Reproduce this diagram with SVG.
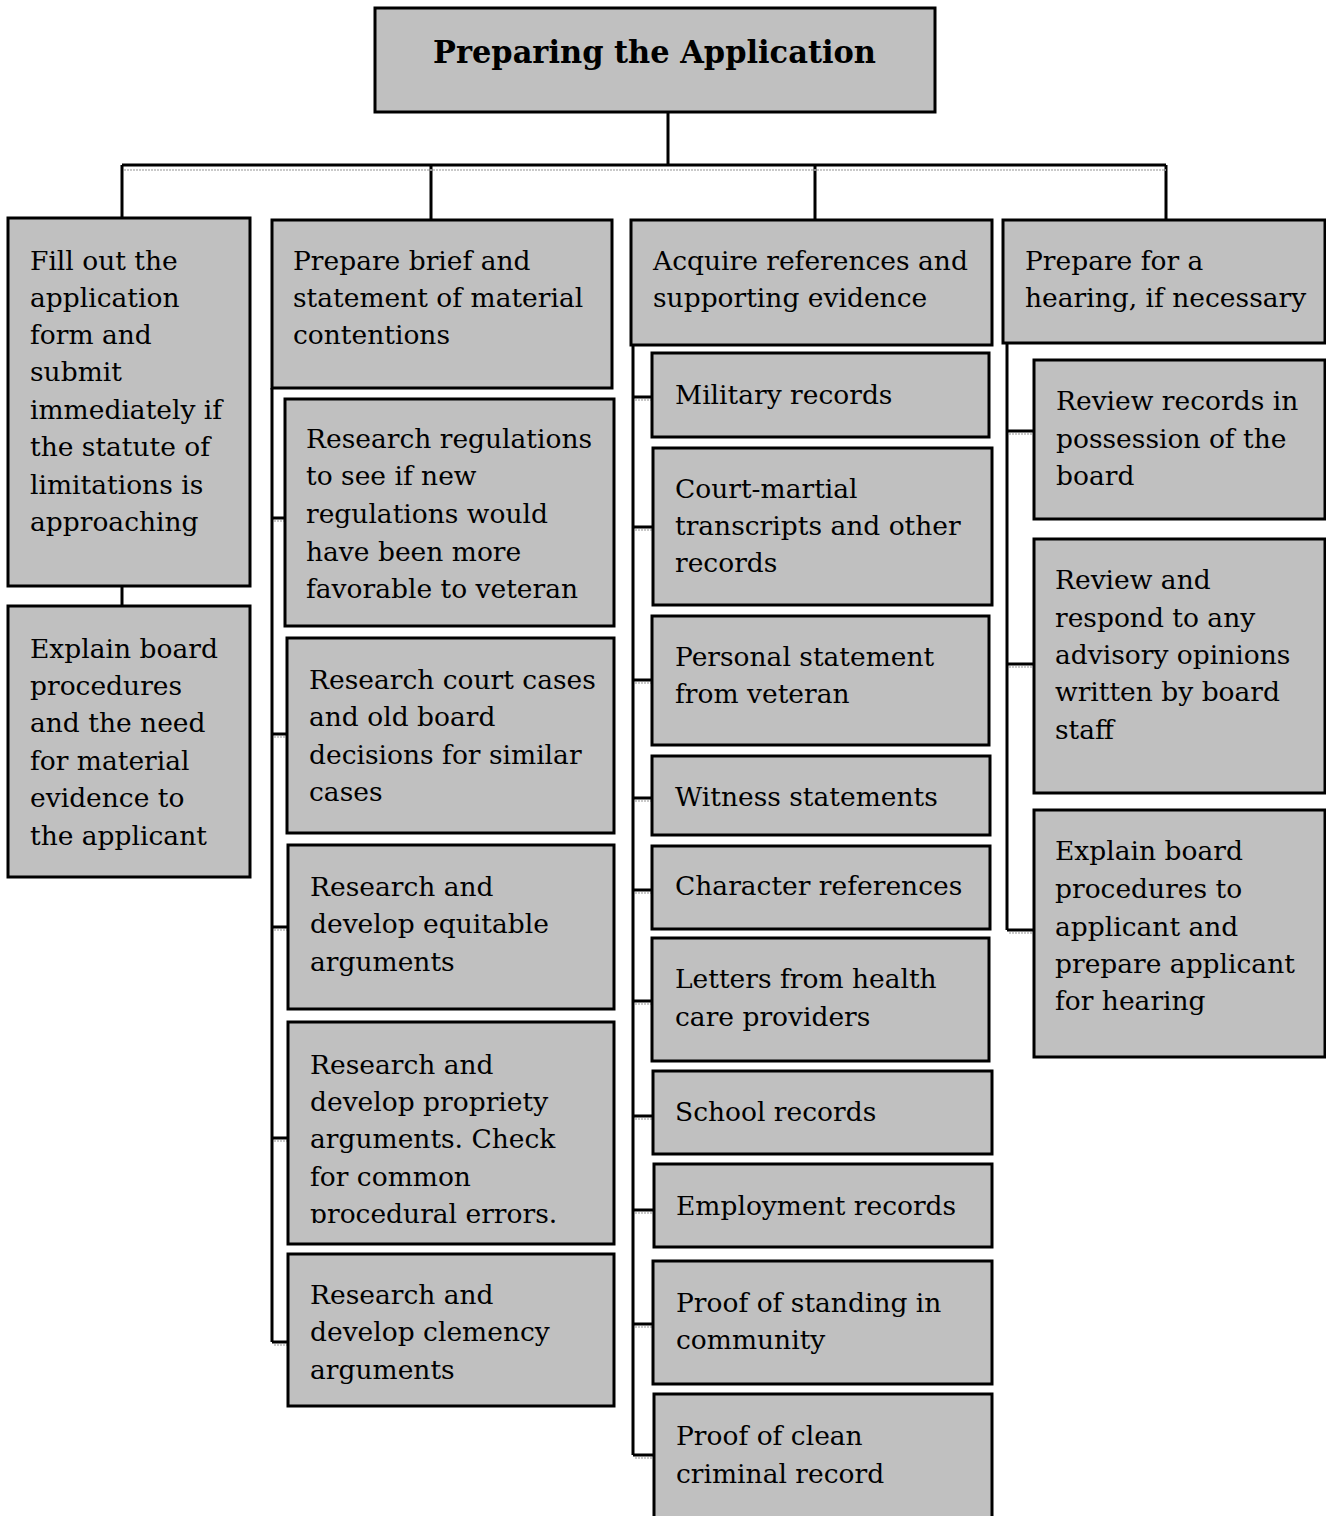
<svg xmlns="http://www.w3.org/2000/svg" width="1326" height="1516" viewBox="0 0 1326 1516">
<style>
.box{fill:#c0c0c0;stroke:#000;stroke-width:3}
.t{font-family:"DejaVu Serif","Liberation Serif",serif;font-size:26.5px;fill:#000}
.title{font-family:"DejaVu Serif","Liberation Serif",serif;font-size:31px;font-weight:bold;fill:#000}
.ln{stroke:#000;stroke-width:3;fill:none}
.dl{stroke:#b8b8b8;stroke-width:1.5;stroke-dasharray:2 1;fill:none}
</style>
<defs>
<clipPath id="clipB4"><rect x="288" y="1022" width="326" height="201"/></clipPath>
</defs>
<rect width="1326" height="1516" fill="#fff"/>
<g id="connectors">
<path class="ln" d="M668 112V165M122 165H1166M122 165V218M431 165V220M815 165V220M1166 165V220"/>
<path class="dl" d="M124 170H1166"/>
<path class="ln" d="M122 586V606"/>
<path class="ln" d="M272 388V1342M272 518H285M272 734H287M272 927H288M272 1138H288M272 1342H288"/>
<path class="dl" d="M274 521H285M274 737H287M274 930H288M274 1141H288M274 1345H288"/>
<path class="ln" d="M633 345V1455M633 397H652M633 527H653M633 680H652M633 798H652M633 890H652M633 1001H652M633 1116H653M633 1210H654M633 1324H653M633 1455H654"/>
<path class="dl" d="M635 400H652M635 530H653M635 683H652M635 801H652M635 893H652M635 1004H652M635 1119H653M635 1213H654M635 1327H653M635 1458H654"/>
<path class="ln" d="M1007 343V930M1007 431H1034M1007 664H1034M1007 930H1034"/>
<path class="dl" d="M1009 434H1034M1009 667H1034M1009 933H1034"/>
</g>
<g id="title">
<rect class="box" x="375" y="8" width="560" height="104"/>
<text class="title" x="433" y="63" textLength="443" lengthAdjust="spacingAndGlyphs">Preparing the Application</text>
</g>
<g id="a1">
<rect class="box" x="8" y="218" width="242" height="368"/>
<text class="t" x="30"><tspan x="30" y="270">Fill out the</tspan><tspan x="30" y="307">application</tspan><tspan x="30" y="344">form and</tspan><tspan x="30" y="381">submit</tspan><tspan x="30" y="419">immediately if</tspan><tspan x="30" y="456">the statute of</tspan><tspan x="30" y="494">limitations is</tspan><tspan x="30" y="531">approaching</tspan></text>
</g>
<g id="a2">
<rect class="box" x="8" y="606" width="242" height="271"/>
<text class="t"><tspan x="30" y="658">Explain board</tspan><tspan x="30" y="695">procedures</tspan><tspan x="30" y="732">and the need</tspan><tspan x="30" y="770">for material</tspan><tspan x="30" y="807">evidence to</tspan><tspan x="30" y="845">the applicant</tspan></text>
</g>
<g id="b0">
<rect class="box" x="272" y="220" width="340" height="168"/>
<text class="t"><tspan x="293" y="270">Prepare brief and</tspan><tspan x="293" y="307">statement of material</tspan><tspan x="293" y="344">contentions</tspan></text>
</g>
<g id="b1">
<rect class="box" x="285" y="399" width="329" height="227"/>
<text class="t"><tspan x="306" y="448">Research regulations</tspan><tspan x="306" y="485">to see if new</tspan><tspan x="306" y="523">regulations would</tspan><tspan x="306" y="561">have been more</tspan><tspan x="306" y="598">favorable to veteran</tspan></text>
</g>
<g id="b2">
<rect class="box" x="287" y="638" width="327" height="195"/>
<text class="t"><tspan x="309" y="689">Research court cases</tspan><tspan x="309" y="726">and old board</tspan><tspan x="309" y="764">decisions for similar</tspan><tspan x="309" y="801">cases</tspan></text>
</g>
<g id="b3">
<rect class="box" x="288" y="845" width="326" height="164"/>
<text class="t"><tspan x="310" y="896">Research and</tspan><tspan x="310" y="933">develop equitable</tspan><tspan x="310" y="971">arguments</tspan></text>
</g>
<g id="b4">
<rect class="box" x="288" y="1022" width="326" height="222"/>
<text class="t" clip-path="url(#clipB4)"><tspan x="310" y="1074">Research and</tspan><tspan x="310" y="1111">develop propriety</tspan><tspan x="310" y="1148">arguments. Check</tspan><tspan x="310" y="1186">for common</tspan><tspan x="310" y="1223">procedural errors.</tspan></text>
</g>
<g id="b5">
<rect class="box" x="288" y="1254" width="326" height="152"/>
<text class="t"><tspan x="310" y="1304">Research and</tspan><tspan x="310" y="1341">develop clemency</tspan><tspan x="310" y="1379">arguments</tspan></text>
</g>
<g id="c0">
<rect class="box" x="631" y="220" width="361" height="125"/>
<text class="t"><tspan x="653" y="270">Acquire references and</tspan><tspan x="653" y="307">supporting evidence</tspan></text>
</g>
<g id="c1">
<rect class="box" x="652" y="353" width="337" height="84"/>
<text class="t" x="675" y="404">Military records</text>
</g>
<g id="c2">
<rect class="box" x="653" y="448" width="339" height="157"/>
<text class="t"><tspan x="675" y="498">Court-martial</tspan><tspan x="675" y="535">transcripts and other</tspan><tspan x="675" y="572">records</tspan></text>
</g>
<g id="c3">
<rect class="box" x="652" y="616" width="337" height="129"/>
<text class="t"><tspan x="675" y="666">Personal statement</tspan><tspan x="675" y="703">from veteran</tspan></text>
</g>
<g id="c4">
<rect class="box" x="652" y="756" width="338" height="79"/>
<text class="t" x="675" y="806">Witness statements</text>
</g>
<g id="c5">
<rect class="box" x="652" y="846" width="338" height="83"/>
<text class="t" x="675" y="895">Character references</text>
</g>
<g id="c6">
<rect class="box" x="652" y="938" width="337" height="123"/>
<text class="t"><tspan x="675" y="988">Letters from health</tspan><tspan x="675" y="1026">care providers</tspan></text>
</g>
<g id="c7">
<rect class="box" x="653" y="1071" width="339" height="83"/>
<text class="t" x="675" y="1121">School records</text>
</g>
<g id="c8">
<rect class="box" x="654" y="1164" width="338" height="83"/>
<text class="t" x="676" y="1215">Employment records</text>
</g>
<g id="c9">
<rect class="box" x="653" y="1261" width="339" height="123"/>
<text class="t"><tspan x="676" y="1312">Proof of standing in</tspan><tspan x="676" y="1349">community</tspan></text>
</g>
<g id="c10">
<rect class="box" x="654" y="1394" width="338" height="140"/>
<text class="t"><tspan x="676" y="1445">Proof of clean</tspan><tspan x="676" y="1483">criminal record</tspan></text>
</g>
<g id="d0">
<rect class="box" x="1003" y="220" width="322" height="123"/>
<text class="t"><tspan x="1025" y="270">Prepare for a</tspan><tspan x="1025" y="307">hearing, if necessary</tspan></text>
</g>
<g id="d1">
<rect class="box" x="1034" y="360" width="291" height="159"/>
<text class="t"><tspan x="1056" y="410">Review records in</tspan><tspan x="1056" y="448">possession of the</tspan><tspan x="1056" y="485">board</tspan></text>
</g>
<g id="d2">
<rect class="box" x="1034" y="539" width="291" height="254"/>
<text class="t"><tspan x="1055" y="589">Review and</tspan><tspan x="1055" y="627">respond to any</tspan><tspan x="1055" y="664">advisory opinions</tspan><tspan x="1055" y="701">written by board</tspan><tspan x="1055" y="739">staff</tspan></text>
</g>
<g id="d3">
<rect class="box" x="1034" y="810" width="291" height="247"/>
<text class="t"><tspan x="1055" y="860">Explain board</tspan><tspan x="1055" y="898">procedures to</tspan><tspan x="1055" y="936">applicant and</tspan><tspan x="1055" y="973">prepare applicant</tspan><tspan x="1055" y="1010">for hearing</tspan></text>
</g>
</svg>
